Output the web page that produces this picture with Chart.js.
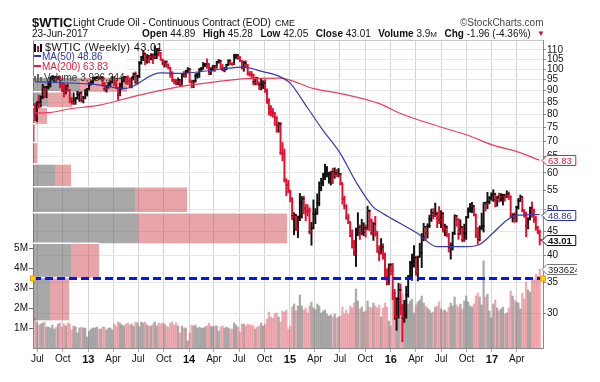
<!DOCTYPE html>
<html><head><meta charset="utf-8">
<script src="https://cdn.jsdelivr.net/npm/chart.js@4.4.1/dist/chart.umd.min.js"></script>
<style>
html,body{margin:0;padding:0;background:#fff;}
#wrap{position:relative;width:600px;height:382px;overflow:hidden;font-family:"Liberation Sans",Arial,sans-serif;}
#c{position:absolute;left:0;top:0;}
.t{position:absolute;white-space:nowrap;color:#111;line-height:1;}
.b{font-weight:bold;}
.g{margin-left:7.5px;}
#legend{position:absolute;left:34px;top:41px;width:92px;height:35px;background:#fff;}
</style></head><body>
<div id="wrap">
<canvas id="c" width="600" height="382"></canvas>
<div id="legend"></div>
<div class="t b" style="left:32px;top:15.5px;font-size:13px;">$WTIC</div>
<div class="t" style="left:73px;top:18px;font-size:10px;">Light Crude Oil - Continuous Contract (EOD)</div>
<div class="t" style="left:275px;top:19px;font-size:9px;">CME</div>
<div class="t" style="left:460px;top:17.5px;font-size:10px;color:#444;">&copy;StockCharts.com</div>
<div class="t" style="left:32px;top:29px;font-size:10px;">23-Jun-2017</div>
<div class="t" style="left:142px;top:29px;font-size:10px;"><span class="b">Open</span> 44.89<span class="g b">High</span> 45.28<span class="g b">Low</span> 42.05<span class="g b">Close</span> 43.01<span class="g b">Volume</span> 3.9<span style="font-size:8px">M</span><span class="g b">Chg</span> -1.96 (-4.36%)</div>
<div class="t" style="left:537px;top:30px;font-size:8px;color:#c0102a;">&#9660;</div>
<div class="t" style="left:34px;top:42px;font-size:11px;letter-spacing:0.35px;"><span style="display:inline-block;width:2px;height:8px;background:#000;margin-right:1px;vertical-align:-1px"></span><span style="display:inline-block;width:2px;height:6px;background:#c01030;margin-right:1px;vertical-align:-1px"></span><span style="display:inline-block;width:2px;height:8px;background:#000;margin-right:3px;vertical-align:-1px"></span><span id="lg1"></span></div>
<div class="t" style="left:34px;top:52px;font-size:10px;color:#2a36a8;"><span style="display:inline-block;width:7px;height:2px;background:#2a36a8;vertical-align:3px;margin-right:1px"></span><span id="lg2"></span></div>
<div class="t" style="left:34px;top:62px;font-size:10px;color:#e0203c;"><span style="display:inline-block;width:7px;height:2px;background:#e0203c;vertical-align:3px;margin-right:1px"></span><span id="lg3"></span></div>
<div class="t" style="left:34px;top:72.5px;font-size:10px;color:#333;"><span style="display:inline-block;width:2px;height:5px;background:#666;margin-right:1px"></span><span style="display:inline-block;width:2px;height:7px;background:#666;margin-right:1px"></span><span style="display:inline-block;width:2px;height:4px;background:#666;margin-right:2px"></span><span id="lg4"></span></div>
</div>
<script>
// ---------- DATA (weekly, first week ending 2012-06-22) ----------
const firstWeek = '2012-06-22';
const opens = [
84.0,79.8,85.0,84.5,87.1,91.4,90.1,91.4,92.9,96.0,96.2,96.5,96.4,99.0,92.9,92.2,89.9,91.9,90.1,86.3,84.9,86.1,86.9,88.3,88.9,85.9,86.7,88.7,
90.8,93.1,93.6,95.6,95.9,97.8,95.7,95.9,93.1,90.7,92.0,93.5,93.7,97.2,92.7,91.3,88.0,93.0,95.6,96.0,96.0,94.2,92.0,96.0,97.9,93.7,96.6,103.2,106.0,108.1,104.7,106.9,106.0,107.5,106.4,107.7,110.5,108.2,104.7,102.9,103.8,102.0,100.8,97.9,94.6,94.6,93.8,94.8,92.7,97.7,96.6,99.3,
100.3,94.0,92.7,94.4,96.6,97.5,99.9,100.3,102.2,102.6,102.6,98.9,99.5,101.7,101.1,103.7,104.3,100.6,99.8,100.0,102.0,104.4,102.7,102.7,106.9,107.3,105.7,104.1,100.8,103.1,102.1,97.9,97.7,97.4,93.7,96.0,93.3,92.3,92.4,93.5,89.7,85.8,82.8,81.0,80.5,78.7,75.8,76.5,66.2,65.8,57.8,56.5,
54.7,52.7,48.4,48.7,45.6,48.2,51.7,52.8,50.3,49.8,49.6,44.8,45.7,48.9,49.1,51.6,55.7,57.2,59.2,59.4,59.7,59.7,60.3,59.1,60.0,59.6,59.6,56.9,52.7,50.9,48.1,47.1,43.9,42.5,40.5,45.2,46.1,44.6,44.7,45.7,45.5,49.6,47.3,44.6,46.6,44.3,40.7,40.4,41.7,40.0,35.6,34.7,
38.1,37.0,33.2,29.4,32.2,33.6,30.9,29.4,29.6,32.8,35.9,38.5,39.4,39.5,36.8,39.7,40.4,43.7,45.9,44.7,46.2,47.8,49.3,48.6,49.1,48.0,47.6,49.0,45.4,46.0,44.2,41.6,41.8,44.5,48.5,47.6,44.4,45.9,43.0,44.5,48.2,49.8,50.4,50.9,48.7,44.1,43.4,45.7,46.1,51.7,51.5,51.9,53.0,
53.7,54.0,52.4,53.2,53.2,53.8,53.9,53.4,54.1,53.3,48.5,48.8,48.0,50.6,52.2,53.2,49.6,49.3,46.2,47.8,50.3,49.8,47.7,45.8,44.89];
const highs = [
84.5,85.0,88.0,87.7,92.9,91.9,91.8,94.3,96.1,98.3,97.2,97.3,100.4,99.5,93.3,93.2,92.6,93.2,90.5,87.0,89.0,87.0,89.7,89.3,89.6,87.5,90.5,91.0,
93.6,94.2,95.9,96.3,98.2,97.9,97.8,96.4,93.7,92.2,93.5,94.1,97.4,97.8,94.9,91.6,93.3,96.2,96.7,96.3,96.8,95.7,96.1,98.2,98.7,97.1,103.9,106.4,109.3,108.1,107.5,107.0,108.0,107.9,112.2,110.7,111.0,108.6,105.2,104.2,104.3,102.7,101.0,98.8,95.3,95.0,95.8,95.0,97.9,98.9,99.4,100.8,
100.5,94.8,94.6,97.8,98.2,100.0,101.0,103.4,103.0,105.2,102.8,100.8,102.0,101.9,104.0,104.9,104.6,102.4,100.9,102.5,104.5,104.6,103.3,107.7,107.7,107.5,106.5,104.3,104.1,104.3,102.3,98.9,98.9,97.5,96.0,96.2,93.9,95.3,94.5,95.0,90.8,86.5,83.6,82.4,80.7,79.2,77.0,76.9,69.7,67.5,58.3,57.8,
55.1,53.1,49.3,48.9,48.5,54.2,53.4,53.5,51.4,51.3,50.5,47.0,52.5,50.3,54.1,57.4,58.4,59.9,62.6,61.9,60.2,60.5,61.4,61.5,61.0,61.3,59.8,57.0,53.5,51.3,48.9,47.1,45.3,43.0,45.7,49.3,46.4,47.7,46.9,46.4,50.9,50.0,47.8,47.0,48.4,45.0,41.9,43.4,42.3,40.4,37.4,38.3,
38.4,38.4,33.8,32.4,34.8,34.7,31.4,32.0,34.3,36.2,38.8,40.2,41.9,39.8,39.8,42.4,44.5,46.8,46.1,46.7,48.7,50.2,50.3,51.7,49.5,50.8,49.8,49.4,46.6,46.2,44.5,42.5,44.8,48.8,48.6,47.9,47.6,46.0,46.6,48.3,50.5,51.6,51.9,51.0,49.0,45.8,46.2,49.2,51.8,52.0,54.5,53.4,54.4,
55.2,54.3,53.5,54.3,54.2,54.0,54.0,54.9,54.6,53.6,49.1,49.3,50.9,52.9,53.8,53.3,50.1,49.4,48.1,50.7,52.0,50.2,48.4,46.0,45.28];
const lows = [
77.6,77.3,82.6,83.0,86.5,86.9,86.9,90.7,91.6,94.9,93.6,94.0,95.2,91.2,89.4,87.2,88.5,89.6,84.8,84.1,84.1,84.1,86.3,85.3,85.1,84.7,86.4,87.6,
90.3,92.4,93.2,94.7,95.4,95.0,95.3,92.0,89.8,89.3,91.0,91.9,93.4,92.4,90.9,85.6,87.7,90.6,93.9,93.0,92.6,91.2,91.2,94.8,93.0,93.0,95.9,102.5,104.3,102.2,103.0,103.3,104.7,102.8,105.3,105.4,106.7,104.6,102.2,101.1,100.9,100.1,96.1,94.1,93.0,92.5,92.7,91.8,92.4,96.1,96.1,98.2,
93.6,91.2,91.3,93.8,95.6,96.0,98.9,100.1,101.2,100.4,97.4,97.4,99.1,98.9,100.5,103.0,100.4,99.2,98.7,99.6,101.8,102.3,101.9,102.3,105.4,104.9,103.8,100.2,99.0,101.1,97.1,96.7,95.4,92.5,92.6,92.5,90.4,90.3,90.9,89.2,84.5,79.8,79.4,78.9,75.8,73.3,73.3,65.7,63.7,57.3,53.6,54.5,
52.0,47.6,44.2,45.2,43.6,47.4,48.0,49.0,47.4,48.5,44.4,42.0,45.5,46.7,48.9,51.0,54.9,56.3,58.0,58.8,57.0,56.5,56.9,58.4,58.9,58.8,56.5,51.4,50.2,47.7,46.7,43.8,41.4,39.9,37.8,44.0,43.2,44.2,44.0,43.7,45.3,45.1,44.2,43.0,43.9,40.6,38.9,40.2,39.2,35.4,34.5,34.6,
36.3,32.1,29.1,27.6,29.3,29.8,26.1,28.7,29.3,32.5,35.6,35.3,37.7,36.2,35.2,39.6,37.6,42.9,43.0,43.5,45.8,47.2,47.8,48.4,45.8,46.7,45.8,44.8,44.0,43.8,40.6,39.2,41.0,44.3,46.1,43.2,44.2,42.7,42.8,43.2,48.0,49.4,49.3,48.5,43.6,42.2,42.9,45.3,44.8,49.7,50.3,51.5,52.4,
52.1,50.7,50.9,52.0,52.2,51.2,52.2,53.1,52.6,48.3,47.1,47.0,47.1,50.2,52.1,49.5,48.2,43.8,45.5,47.6,48.2,47.0,45.2,44.4,42.05];
const closes = [
79.76,84.96,84.45,87.10,91.44,90.13,91.40,92.87,96.01,96.15,96.47,96.42,99.00,92.89,92.19,89.88,91.86,90.05,86.28,84.86,86.07,86.92,88.28,88.91,85.93,86.73,88.66,90.80,
93.09,93.56,95.56,95.88,97.77,95.72,95.86,93.13,90.68,91.95,93.45,93.71,97.23,92.70,91.29,88.01,93.00,95.61,96.04,96.02,94.15,91.97,96.03,97.85,93.69,96.56,103.22,105.95,108.05,104.70,106.94,106.03,107.46,106.42,107.65,110.53,108.21,104.67,102.87,103.84,102.02,100.81,97.85,94.61,94.60,93.84,94.84,92.72,97.65,96.60,99.32,100.32,
93.96,92.72,94.37,96.64,97.49,99.88,100.30,102.20,102.59,102.58,98.89,99.46,101.67,101.14,103.74,104.30,100.60,99.76,99.99,102.02,104.35,102.71,102.66,106.91,107.26,105.74,104.06,100.83,103.13,102.09,97.88,97.65,97.35,93.65,95.96,93.29,92.27,92.41,93.54,89.74,85.82,82.75,81.01,80.54,78.65,75.82,76.51,66.15,65.84,57.81,56.52,54.73,
52.69,48.36,48.69,45.59,48.24,51.69,52.78,50.34,49.76,49.61,44.84,45.72,48.87,49.14,51.64,55.74,57.15,59.15,59.39,59.69,59.72,60.30,59.13,59.96,59.61,59.63,56.93,52.74,50.89,48.14,47.12,43.87,42.50,40.45,45.22,46.05,44.63,44.68,45.70,45.54,49.63,47.26,44.60,46.59,44.29,40.74,40.39,41.71,39.97,35.62,34.73,38.10,
37.04,33.16,29.42,32.19,33.62,30.89,29.44,29.64,32.78,35.92,38.50,39.44,39.46,36.79,39.72,40.36,43.73,45.92,44.66,46.21,47.75,49.33,48.62,49.07,47.98,47.64,48.99,45.41,45.95,44.19,41.60,41.80,44.49,48.52,47.64,44.44,45.88,43.03,44.48,48.24,49.81,50.35,50.85,48.70,44.07,43.41,45.69,46.06,51.68,51.50,51.90,53.02,53.72,
53.99,52.37,53.22,53.17,53.83,53.86,53.40,54.05,53.33,48.49,48.78,47.97,50.60,52.24,53.18,49.62,49.33,46.22,47.84,50.33,49.80,47.66,45.83,44.74,43.01];
// weekly volume, millions of contracts
const volumes = [
1.50,1.30,1.15,1.20,1.25,1.30,1.05,1.05,1.00,1.15,0.95,1.05,1.20,1.25,1.05,1.20,1.10,1.25,1.20,0.90,1.10,1.05,0.75,1.00,1.05,1.00,1.00,0.55,
0.85,0.95,1.00,1.00,1.05,0.95,0.95,1.05,1.05,0.90,1.00,1.00,0.90,1.20,1.10,1.30,1.25,1.15,1.10,1.20,1.25,1.15,1.20,1.10,1.30,1.25,1.05,1.30,1.25,1.30,1.15,1.10,1.10,1.20,1.30,1.10,1.25,1.20,1.25,1.20,1.10,1.05,1.25,1.30,1.15,1.25,1.10,0.75,1.10,1.00,1.00,0.35,
0.75,1.15,1.10,1.15,1.00,1.05,1.00,1.00,1.05,1.10,1.25,1.10,1.05,1.10,1.10,0.85,1.05,1.10,1.00,1.05,1.00,0.95,0.95,1.25,1.15,1.05,0.80,1.20,1.20,1.10,1.20,1.15,1.15,1.10,0.95,1.05,1.10,1.25,1.10,1.20,1.45,1.80,1.55,1.50,1.70,1.75,1.55,1.30,1.85,1.80,1.90,0.95,
1.10,2.05,2.20,1.85,2.10,2.65,2.10,1.90,2.00,1.75,2.10,2.30,2.00,1.90,2.20,2.10,1.75,1.85,1.90,1.70,1.60,1.65,1.55,1.70,1.50,1.55,1.60,2.05,1.70,1.90,1.70,2.10,2.00,2.25,2.95,2.35,1.95,2.05,1.80,1.85,2.35,2.05,2.00,2.25,2.10,2.00,2.15,1.55,2.00,2.25,2.05,1.35,
1.10,2.75,2.80,2.55,2.45,2.40,2.70,2.10,2.40,2.20,2.35,2.45,1.75,2.15,2.30,2.40,2.60,2.25,2.10,2.00,1.90,1.75,1.80,2.05,2.10,2.30,1.95,1.85,1.90,1.80,2.05,2.25,2.10,2.55,2.15,2.05,2.20,1.95,2.35,2.60,2.30,2.10,2.05,2.20,2.60,2.75,2.55,2.15,4.35,2.55,2.70,1.85,1.50,
2.20,2.40,2.00,1.85,1.95,2.05,1.70,1.75,2.00,2.85,2.60,2.40,2.30,2.25,1.95,2.75,2.45,3.30,2.90,2.80,3.50,3.40,3.70,3.60,3.936244];
const lastVolume = 3936244;
// moving averages
const ma50Dates = ['2012-06-22','2013-01-14','2013-05-14','2013-09-17','2013-11-29','2014-04-23','2014-07-15','2014-09-25','2014-11-26','2015-01-01','2015-03-03','2015-04-30','2015-07-01','2015-08-31','2015-10-28','2015-11-23','2016-02-03','2016-04-05','2016-06-16','2016-10-03','2016-11-19','2017-01-05','2017-02-24','2017-04-02','2017-06-23'];
const ma50 = [94.1,92.9,91.0,98.2,98.0,100.0,101.0,98.8,96.4,93.5,83.1,74.1,66.2,57.0,50.8,49.5,46.8,44.6,41.7,41.7,42.2,44.6,47.5,48.7,48.86];
const ma200Dates = ['2012-06-22','2012-08-08','2012-10-27','2013-02-12','2013-06-12','2013-11-29','2014-03-11','2014-07-29','2014-11-26','2015-03-25','2015-07-26','2015-11-23','2016-02-03','2016-06-27','2016-10-03','2017-01-05','2017-04-02','2017-06-23'];
const ma200 = [80.6,80.7,82.3,83.8,87.4,91.8,93.5,95.5,95.7,91.0,88.1,84.3,80.5,75.3,72.3,68.8,66.6,63.83];
// volume by price zones
const vbpLow  = [29.0,35.8,42.4,49.3,56.0,62.7,69.7,76.4,83.0,89.5];
const vbpHigh = [35.8,42.4,49.3,56.0,62.7,69.7,76.4,83.0,89.5,96.3];
const vbpUp   = [17,38,105,102,22,0,0,2,15,47];
const vbpDown = [19,28,149,52,16,4,2,12,24,47];
const supportLevel = 35.65;
// axes
const xTickDates = ['2012-07-01','2012-10-01','2013-01-01','2013-04-01','2013-07-01','2013-10-01','2014-01-01','2014-04-01','2014-07-01','2014-10-01','2015-01-01','2015-04-01','2015-07-01','2015-10-01','2016-01-01','2016-04-01','2016-07-01','2016-10-01','2017-01-01','2017-04-01'];
const xTickLabels = ['Jul','Oct','13','Apr','Jul','Oct','14','Apr','Jul','Oct','15','Apr','Jul','Oct','16','Apr','Jul','Oct','17','Apr'];
const priceTicks = [30,35,40,45,50,55,60,65,70,75,80,85,90,95,100,105,110];
const volTicks = [1,2,3,4,5];
const xStart = '2012-06-15', xEnd = '2017-07-05';
const priceMin = 25.3, priceMax = 115.5, volMax = 15.4;

// ---------- helpers ----------
const DAY0 = Date.UTC(2012,0,1);
const dayOf = s => { const [y,m,d] = s.split('-').map(Number); return (Date.UTC(y,m-1,d) - DAY0) / 864e5; };
const x0 = dayOf(firstWeek);
const wx = closes.map((_, i) => x0 + 7*i);
const up = closes.map((c, i) => c >= (i ? closes[i-1] : opens[i]));
const BLK = '#111', RED = '#e0102e';

function tickImg(color, left) {
  const c = document.createElement('canvas'); c.width = 6; c.height = 2;
  const g = c.getContext('2d'); g.fillStyle = color;
  g.fillRect(left ? 0.5 : 3, 0, 2.5, 1.6);
  return c;
}
const imgs = {oB: tickImg(BLK,true), oR: tickImg(RED,true), cB: tickImg(BLK,false), cR: tickImg(RED,false)};

const ds = [];
vbpLow.forEach((lo, i) => {
  const hi = vbpHigh[i];
  ds.push({type:'line', xAxisID:'xv', yAxisID:'y', order:50, data:[{x:0,y:hi},{x:vbpUp[i],y:hi}],
    fill:{value:lo}, backgroundColor:'rgba(105,105,105,0.58)', borderColor:'#fff', borderWidth:1.5, pointRadius:0});
  ds.push({type:'line', xAxisID:'xv', yAxisID:'y', order:50, data:[{x:vbpUp[i],y:hi},{x:vbpUp[i]+vbpDown[i],y:hi}],
    fill:{value:lo}, backgroundColor:'rgba(205,55,65,0.45)', borderColor:'#fff', borderWidth:1.5, pointRadius:0});
});
ds.push({type:'bar', xAxisID:'x', yAxisID:'yv', order:40, grouped:false, barThickness:1.6,
  data: volumes.map((v,i)=>({x:wx[i], y:v})),
  backgroundColor: volumes.map((v,i)=> up[i] ? 'rgba(120,120,120,0.62)' : 'rgba(220,70,85,0.45)')});
ds.push({type:'bar', xAxisID:'x', yAxisID:'y', order:30, grouped:false, barThickness:1.3,
  data: closes.map((c,i)=>({x:wx[i], y:[lows[i], highs[i]]})),
  backgroundColor: closes.map((c,i)=> up[i] ? BLK : RED)});
ds.push({type:'line', xAxisID:'x', yAxisID:'y', order:29, showLine:false,
  data: opens.map((o,i)=>({x:wx[i], y:o})), pointRadius:2,
  pointStyle: ctx => up[ctx.dataIndex] ? imgs.oB : imgs.oR});
ds.push({type:'line', xAxisID:'x', yAxisID:'y', order:28, showLine:false,
  data: closes.map((c,i)=>({x:wx[i], y:c})), pointRadius:2,
  pointStyle: ctx => up[ctx.dataIndex] ? imgs.cB : imgs.cR});
ds.push({type:'line', xAxisID:'x', yAxisID:'y', order:20, data: ma200Dates.map((d,i)=>({x:dayOf(d), y:ma200[i]})),
  borderColor:'#e8405c', borderWidth:1.2, pointRadius:0, cubicInterpolationMode:'monotone', fill:false});
ds.push({type:'line', xAxisID:'x', yAxisID:'y', order:19, data: ma50Dates.map((d,i)=>({x:dayOf(d), y:ma50[i]})),
  borderColor:'#3a3aa8', borderWidth:1.2, pointRadius:0, cubicInterpolationMode:'monotone', fill:false});
ds.push({type:'line', xAxisID:'x', yAxisID:'y', order:10, clip:false,
  data:[{x:dayOf(xStart), y:supportLevel},{x:dayOf(xEnd), y:supportLevel}],
  borderColor:'#0a14f0', borderWidth:3, borderDash:[8,4], fill:false,
  pointStyle:'rect', pointRadius:3.5, pointBackgroundColor:'#ffd400', pointBorderColor:'#e8a000', pointBorderWidth:1});

const FONT = {family:'"Liberation Sans", Arial, sans-serif', size:10};
const tagsPlugin = {
  id:'tags',
  afterDraw(chart) {
    const {ctx, chartArea, scales} = chart;
    const tags = [
      {v: ma200[ma200.length-1], s: ma200[ma200.length-1].toFixed(2), stroke:'#e0203c', color:'#e0203c', bold:false, sc:scales.y},
      {v: ma50[ma50.length-1], s: ma50[ma50.length-1].toFixed(2), stroke:'#2a36a8', color:'#2a36a8', bold:false, sc:scales.y},
      {v: closes[closes.length-1], s: closes[closes.length-1].toFixed(2), stroke:'#111', color:'#111', bold:true, sc:scales.y},
      {v: volumes[volumes.length-1], s: String(lastVolume), stroke:'#777', color:'#222', bold:false, sc:scales.yv}
    ];
    ctx.save();
    ctx.beginPath(); ctx.rect(0,0,577,382); ctx.clip();
    tags.forEach(t => {
      const y = Math.round(t.sc.getPixelForValue(t.v)) + 0.5;
      const x = chartArea.right - 1;
      ctx.font = (t.bold ? 'bold ' : '') + '9.5px "Liberation Sans", Arial';
      const w = ctx.measureText(t.s).width + 5;
      ctx.beginPath();
      ctx.moveTo(x, y); ctx.lineTo(x+5, y-5); ctx.lineTo(x+5+w, y-5); ctx.lineTo(x+5+w, y+5); ctx.lineTo(x+5, y+5); ctx.closePath();
      ctx.fillStyle = '#fff'; ctx.fill();
      ctx.lineWidth = 1; ctx.strokeStyle = t.stroke; ctx.stroke();
      ctx.fillStyle = t.color; ctx.textBaseline = 'middle'; ctx.textAlign = 'left';
      ctx.fillText(t.s, x+6, y+0.5);
    });
    ctx.restore();
  },
  beforeDatasetsDraw(chart) {
    const {ctx, chartArea} = chart;
    ctx.save(); ctx.strokeStyle = '#c8c8c8'; ctx.lineWidth = 1;
    ctx.beginPath(); ctx.moveTo(chartArea.left, chartArea.top + 0.5); ctx.lineTo(chartArea.right, chartArea.top + 0.5); ctx.stroke();
    ctx.restore();
  }
};

document.getElementById('lg1').textContent = '$WTIC (Weekly) ' + closes[closes.length-1].toFixed(2);
document.getElementById('lg2').textContent = 'MA(50) ' + ma50[ma50.length-1].toFixed(2);
document.getElementById('lg3').textContent = 'MA(200) ' + ma200[ma200.length-1].toFixed(2);
document.getElementById('lg4').textContent = 'Volume ' + lastVolume.toLocaleString('en-US');

new Chart(document.getElementById('c'), {
  type:'bar',
  data:{datasets: ds},
  plugins:[tagsPlugin],
  options:{
    responsive:false, animation:false, devicePixelRatio:1,
    layout:{padding:{top:40, left:0, right:0, bottom:0}},
    plugins:{legend:{display:false}, tooltip:{enabled:false}},
    scales:{
      x:{type:'linear', position:'bottom', offset:false, min:dayOf(xStart), max:dayOf(xEnd),
        afterBuildTicks: s => { s.ticks = xTickDates.map(d => ({value: dayOf(d)})); },
        afterFit: s => { s.height = 34; },
        grid:{color:'#d4d4d4', tickLength:4, tickColor:'#aaa', offset:false},
        border:{display:true, color:'#888'},
        ticks:{autoSkip:false, maxRotation:0, padding:1, color:'#111',
          callback:(v,i) => xTickLabels[i],
          font: c => ({...FONT, weight: /^\d+$/.test(xTickLabels[c.index] || '') ? 'bold' : 'normal', size: /^\d+$/.test(xTickLabels[c.index] || '') ? 11 : 10})}},
      xv:{type:'linear', display:false, offset:false, min:0, max:510},
      y:{type:'logarithmic', position:'right', min:priceMin, max:priceMax,
        afterBuildTicks: s => { s.ticks = priceTicks.map(v => ({value:v})); },
        afterFit: s => { s.width = 57; },
        grid:{color:'#e6e6e6', tickLength:3, tickColor:'#888'},
        border:{display:true, color:'#888'},
        ticks:{padding:1, color:'#111', font:FONT, callback: v => String(v)}},
      yv:{type:'linear', position:'left', min:0, max:volMax,
        afterBuildTicks: s => { s.ticks = volTicks.map(v => ({value:v})); },
        afterFit: s => { s.width = 33; },
        grid:{drawOnChartArea:false, tickLength:4, color:'#666'},
        border:{display:true, color:'#888'},
        ticks:{padding:1, color:'#111', font:FONT, callback: v => v + 'M'}}
    }
  }
});
</script>
</body></html>
